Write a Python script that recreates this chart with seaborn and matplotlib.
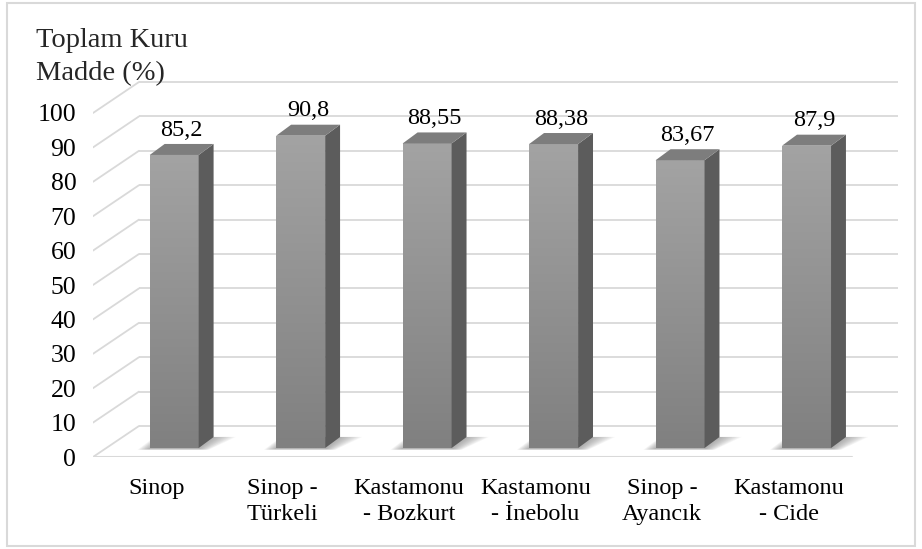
import numpy as np
import pandas as pd
import matplotlib
matplotlib.use("Agg")
import matplotlib.pyplot as plt
from matplotlib.patches import Polygon, Rectangle
from matplotlib.colors import LinearSegmentedColormap
import seaborn as sns

# ---- data -------------------------------------------------------------
sites = ["Sinop", "Sinop -\nTürkeli", "Kastamonu\n- Bozkurt",
         "Kastamonu\n- İnebolu", "Sinop -\nAyancık", "Kastamonu\n- Cide"]
dry_matter = [85.2, 90.8, 88.55, 88.38, 83.67, 87.9]
value_labels = ["85,2", "90,8", "88,55", "88,38", "83,67", "87,9"]
y_ticks = list(range(0, 101, 10))
y_title = "Toplam Kuru\nMadde (%)"

# ---- pseudo-3D geometry (category units on x, value units on y) -------
DEPTH_X, DEPTH_Y = 0.363, 9.0      # full floor depth
FLOOR_Y = -2.6                     # front edge of the floor
LABEL_SHIFT = 0.142                # category labels sit on the front plane
BAR_W = 0.387
BAR_DX, BAR_DY = 0.118, 3.2        # bar depth

GRID = "#d9d9d9"
SIDE = "#5c5c5c"
TOP = "#7d7d7d"
FONT = "Liberation Serif"

sns.set_theme(style="white")
plt.rcParams["font.family"] = [FONT, "DejaVu Serif"]

fig = plt.figure(figsize=(9.22, 5.49), dpi=100)
fig.patch.set_facecolor("white")
ax = fig.add_axes([93 / 922, 92 / 549, 806 / 922, 389 / 549])
ax.set_facecolor("none")

df = pd.DataFrame({"site": sites, "value": dry_matter})
sns.barplot(data=df, x="site", y="value", color="#929292", saturation=1,
            width=BAR_W, ax=ax, zorder=5, errorbar=None, linewidth=0)

n = len(sites)
front_l = -0.5 - LABEL_SHIFT
front_r = n - 0.5 - LABEL_SHIFT

# back wall and left wall gridlines
for v in y_ticks:
    ax.plot([front_l + DEPTH_X, front_r + DEPTH_X],
            [v + FLOOR_Y + DEPTH_Y] * 2, color=GRID, lw=1.3, zorder=1,
            solid_capstyle="butt")
    ax.plot([front_l, front_l + DEPTH_X],
            [v + FLOOR_Y, v + FLOOR_Y + DEPTH_Y], color=GRID, lw=1.3,
            zorder=1)
# front edge of the floor
ax.plot([front_l, front_r], [FLOOR_Y, FLOOR_Y], color=GRID, lw=1.5, zorder=1)

grad_cmap = LinearSegmentedColormap.from_list("face", ["#808080", "#a3a3a3"])
grad = np.linspace(0, 1, 256).reshape(-1, 1)

for patch, val, txt in zip(ax.patches, dry_matter, value_labels):
    x0 = patch.get_x()
    w = patch.get_width()
    h = patch.get_height()
    x1 = x0 + w

    # soft floor shadow around the footprint
    for k in range(10):
        e = 0.008 * (10 - k)
        shadow = Polygon([(x0 - 1.2 * e, -0.3 - 2.5 * e), (x1 + 1.0 * e, -0.3 - 2.5 * e),
                          (x1 + BAR_DX + 2.2 * e, BAR_DY + 0.5 * e),
                          (x0 + BAR_DX - 1.0 * e, BAR_DY + 0.5 * e)],
                         closed=True, facecolor="#606060", alpha=0.06,
                         edgecolor="none", zorder=2)
        ax.add_patch(shadow)

    # front face gradient
    img = ax.imshow(grad, extent=[x0, x1, 0, h], origin="lower",
                    aspect="auto", cmap=grad_cmap, zorder=6,
                    interpolation="bilinear")
    img.set_clip_path(patch)

    # right side face
    side = Polygon([(x1, 0), (x1 + BAR_DX, BAR_DY), (x1 + BAR_DX, h + BAR_DY),
                    (x1, h)], closed=True, facecolor=SIDE, edgecolor="none",
                   zorder=6)
    ax.add_patch(side)
    # top face
    top = Polygon([(x0, h), (x1, h), (x1 + BAR_DX, h + BAR_DY),
                   (x0 + BAR_DX, h + BAR_DY)], closed=True, facecolor=TOP,
                  edgecolor="none", zorder=6)
    ax.add_patch(top)

    ax.text(x0 + w / 2 + BAR_DX / 2, h + BAR_DY + 1.0, txt, ha="center",
            va="bottom", fontsize=17.5, family=FONT, color="black", zorder=8)

ax.set_xlim(front_l, front_r + DEPTH_X + 0.01)
ax.set_ylim(FLOOR_Y, FLOOR_Y + 389 / 3.44)

ax.set_yticks([v + FLOOR_Y for v in y_ticks])
ax.set_yticklabels([str(v) for v in y_ticks], fontsize=18.5, family=FONT)
ax.set_xticks(np.arange(n) - LABEL_SHIFT)
ax.set_xticklabels(sites, fontsize=17.5, family=FONT, linespacing=1.3)
ax.tick_params(axis="both", length=0, colors="black")
ax.tick_params(axis="y", pad=12)
ax.tick_params(axis="x", pad=15)
ax.set_xlabel("")
ax.set_ylabel("")
for s in ax.spines.values():
    s.set_visible(False)

fig.text(36 / 922, 1 - 28 / 549, y_title, ha="left", va="top", fontsize=20.5,
         family=FONT, linespacing=1.45)

# outer chart border
fig.patches.append(Rectangle((7 / 922, 3 / 549), 908 / 922, 543 / 549,
                             transform=fig.transFigure, fill=False,
                             edgecolor=GRID, lw=1.5))

fig.savefig("out.png", dpi=100)
